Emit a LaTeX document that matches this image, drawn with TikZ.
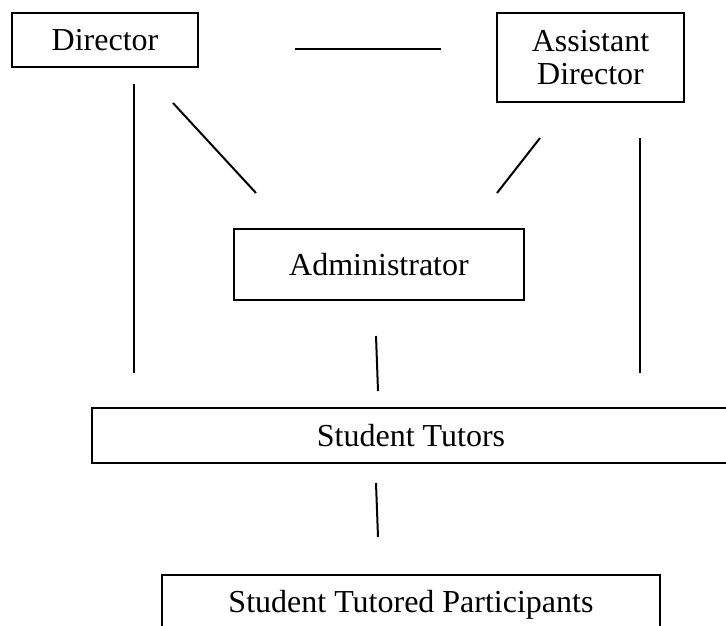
\documentclass[tikz,border=0pt]{standalone}
\usepackage{fontspec}
\setmainfont{Liberation Serif}
\newcommand\pxu{0.375pt}
\tikzset{
  orgbox/.style={draw, line width=0.75pt, inner sep=0pt, align=center,
    font=\fontsize{12pt}{12.6pt}\selectfont},
  orgline/.style={line width=0.75pt}
}
\begin{document}
\begin{tikzpicture}[x=0.375pt,y=-0.375pt]
       \clip (0,0) rectangle (726,625);

       \node[orgbox, minimum width=186*\pxu, minimum height=54*\pxu] (director) at (105,40) {Director};
       \node[orgbox, minimum width=187*\pxu, minimum height=89*\pxu] (assistant) at (590.5,57.5) {Assistant\\Director};

       \coordinate (peer-l) at (295,49);
       \coordinate (peer-r) at (441,49);
       \draw[orgline] (peer-l) -- (peer-r);

       \node[orgbox, minimum width=290*\pxu, minimum height=71*\pxu] (admin) at (379,264.5) {Administrator};

       \coordinate (dir-diag-a) at (173,103);
       \coordinate (dir-diag-b) at (256,193);
       \draw[orgline] (dir-diag-a) -- (dir-diag-b);
       \coordinate (ast-diag-a) at (540,138);
       \coordinate (ast-diag-b) at (497,193);
       \draw[orgline] (ast-diag-a) -- (ast-diag-b);

       \coordinate (dir-down-a) at (134,84);
       \coordinate (dir-down-b) at (134,373);
       \draw[orgline] (dir-down-a) -- (dir-down-b);
       \coordinate (ast-down-a) at (640,138);
       \coordinate (ast-down-b) at (640,373);
       \draw[orgline] (ast-down-a) -- (ast-down-b);

       \coordinate (adm-down-a) at (376,336);
       \coordinate (adm-down-b) at (378,391);
       \draw[orgline] (adm-down-a) -- (adm-down-b);

       \node[orgbox, minimum width=638*\pxu, minimum height=55*\pxu] (tutors) at (411,435.5) {Student Tutors};

       \coordinate (tut-down-a) at (376,483);
       \coordinate (tut-down-b) at (378,537);
       \draw[orgline] (tut-down-a) -- (tut-down-b);

       \node[orgbox, minimum width=498*\pxu, minimum height=60*\pxu] (participants) at (411,605) {Student Tutored Participants};
   \end{tikzpicture}
\end{document}
